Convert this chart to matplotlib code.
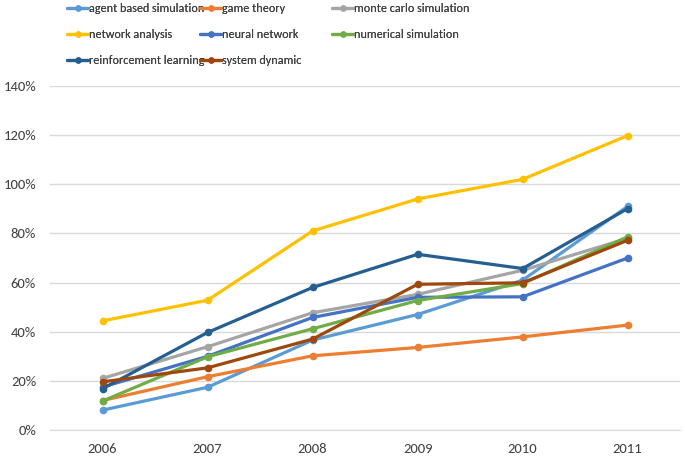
import numpy as np
import matplotlib.pyplot as plt
from matplotlib.ticker import PercentFormatter

plt.rcParams['font.family'] = ['Carlito', 'DejaVu Sans']

years = ['2006', '2007', '2008', '2009', '2010', '2011']

agent_based = [8.1, 17.4, 36.6, 47.0, 61.0, 91.0]
game_theory = [12.0, 21.7, 30.2, 33.6, 37.9, 42.7]
monte_carlo = [21.0, 33.9, 47.7, 55.2, 65.0, 78.0]
network_analysis = [44.4, 52.8, 81.0, 94.0, 102.0, 119.8]
neural_network = [17.5, 30.0, 45.8, 54.0, 54.2, 70.0]
numerical_sim = [11.8, 29.8, 41.2, 52.7, 59.6, 78.6]
reinforcement = [16.8, 39.7, 58.0, 71.5, 65.7, 90.1]
system_dynamic = [19.6, 25.3, 37.0, 59.3, 59.9, 77.2]

series = [
    ('agent based simulation', agent_based, '#5B9BD5'),
    ('game theory', game_theory, '#ED7D31'),
    ('monte carlo simulation', monte_carlo, '#A5A5A5'),
    ('network analysis', network_analysis, '#FFC000'),
    ('neural network', neural_network, '#4472C4'),
    ('numerical simulation', numerical_sim, '#70AD47'),
    ('reinforcement learning', reinforcement, '#255E91'),
    ('system dynamic', system_dynamic, '#9E480E'),
]

fig = plt.figure(figsize=(6.85, 4.57), dpi=100)
ax = fig.add_axes([0.073, 0.059, 0.920, 0.753])

x = np.arange(len(years))
handles = {}
for name, vals, col in series:
    h, = ax.plot(x, np.array(vals) / 100, color=col, lw=2.3, marker='o', ms=4.5,
                 label=name, solid_capstyle='round')
    handles[name] = h

ax.set_xlim(-0.5, len(years) - 0.5)
ax.set_ylim(0, 1.4)
ax.set_yticks(np.arange(0, 1.41, 0.2))
ax.yaxis.set_major_formatter(PercentFormatter(1.0, decimals=0))
ax.set_xticks(x)
ax.set_xticklabels(years)
ax.grid(axis='y', color='#D9D9D9', lw=1)
ax.set_axisbelow(True)
for s in ['top', 'right', 'left']:
    ax.spines[s].set_visible(False)
ax.spines['bottom'].set_color('#D9D9D9')
ax.tick_params(length=0, labelsize=10.5, colors='#404040')
ax.tick_params(axis='y', pad=10)
ax.tick_params(axis='x', pad=9)

# Excel legend: rows filled left to right, fixed column positions
columns = [
    ['agent based simulation', 'network analysis', 'reinforcement learning'],
    ['game theory', 'neural network', 'system dynamic'],
    ['monte carlo simulation', 'numerical simulation'],
]
col_x = [0.098, 0.292, 0.485]
for names, cx in zip(columns, col_x):
    leg = fig.legend([handles[n] for n in names], names, loc='upper left',
                     bbox_to_anchor=(cx, 0.993), frameon=False, fontsize=8.7,
                     borderpad=0, borderaxespad=0, handlelength=1.74,
                     handletextpad=0.1, labelspacing=1.25, markerscale=0.8,
                     labelcolor='#404040')
    fig.add_artist(leg)

fig.savefig('out.png', dpi=100)
